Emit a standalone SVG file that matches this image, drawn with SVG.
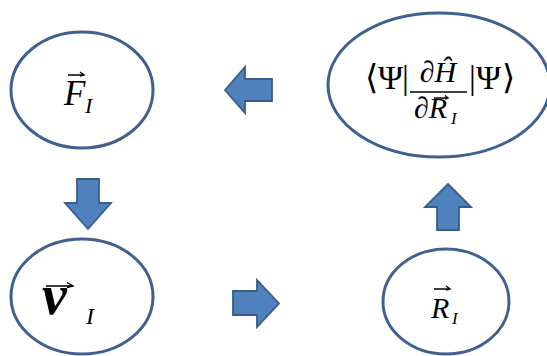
<svg xmlns="http://www.w3.org/2000/svg" width="547" height="356" viewBox="0 0 547 356">
<style>
.ell{fill:#ffffff;stroke:#3f6190;stroke-width:3}
.arr{fill:#4f81bd;stroke:#385d8a;stroke-width:1.8;stroke-linejoin:miter}
.m{font-family:"Liberation Serif","DejaVu Serif",serif;fill:#000}
.i{font-style:italic}
.acc{fill:none;stroke:#000;stroke-width:1.4}
</style>
<rect width="547" height="356" fill="#ffffff"/>
<g id="node-F">
<ellipse class="ell" cx="82" cy="90" rx="71" ry="58"/>
<text class="m i" x="64" y="105" font-size="35">F</text>
<text class="m i" x="85" y="113" font-size="22">I</text>
<path class="acc" d="M68 75 H84 M80 72 L84 75 L80 76"/>
</g>
<g id="node-H">
<ellipse class="ell" cx="439" cy="85" rx="111" ry="72"/>
<text class="m" x="365" y="89" font-size="34">⟨</text>
<text class="m" x="378" y="89" font-size="34">Ψ</text>
<text class="m" x="402" y="89" font-size="34">|</text>
<line x1="410" y1="92" x2="467" y2="92" stroke="#000" stroke-width="1.3"/>
<text class="m i" x="438" y="82" font-size="30" text-anchor="middle">∂Ĥ</text>
<text class="m i" x="414" y="118" font-size="30">∂R</text>
<text class="m i" x="451" y="124" font-size="17">I</text>
<path class="acc" d="M434 98 H448 M445 95.5 L448 98 L445 99"/>
<text class="m" x="469" y="89" font-size="34">|</text>
<text class="m" x="476" y="89" font-size="34">Ψ</text>
<text class="m" x="502" y="89" font-size="34">⟩</text>
</g>
<g id="node-v">
<ellipse class="ell" cx="82" cy="296.5" rx="71" ry="57.5"/>
<text class="m i" x="42" y="314" font-size="56" font-weight="bold">v</text>
<text class="m i" x="86" y="324" font-size="24">I</text>
<path class="acc" d="M46 286 H73 M67 282.5 L73 286 L67 287.5" stroke-width="2"/>
</g>
<g id="node-R">
<ellipse class="ell" cx="446" cy="301.5" rx="63" ry="52.5"/>
<text class="m i" x="431" y="318" font-size="30">R</text>
<text class="m i" x="452" y="324" font-size="17">I</text>
<path class="acc" d="M434 289 H450 M446 286 L450 289 L446 290"/>
</g>
<g id="connectors">
<path class="arr" d="M225 90 L245 67 V79 H272 V101 H245 V113 Z"/>
<path class="arr" d="M77 179 H99 V203 H111 L88 229 L65 203 H77 Z"/>
<path class="arr" d="M233 291 H257 V280 L279 303.5 L257 327 V315 H233 Z"/>
<path class="arr" d="M448 184 L471 207 H459 V230 H437 V207 H425 Z"/>
</g>
</svg>
